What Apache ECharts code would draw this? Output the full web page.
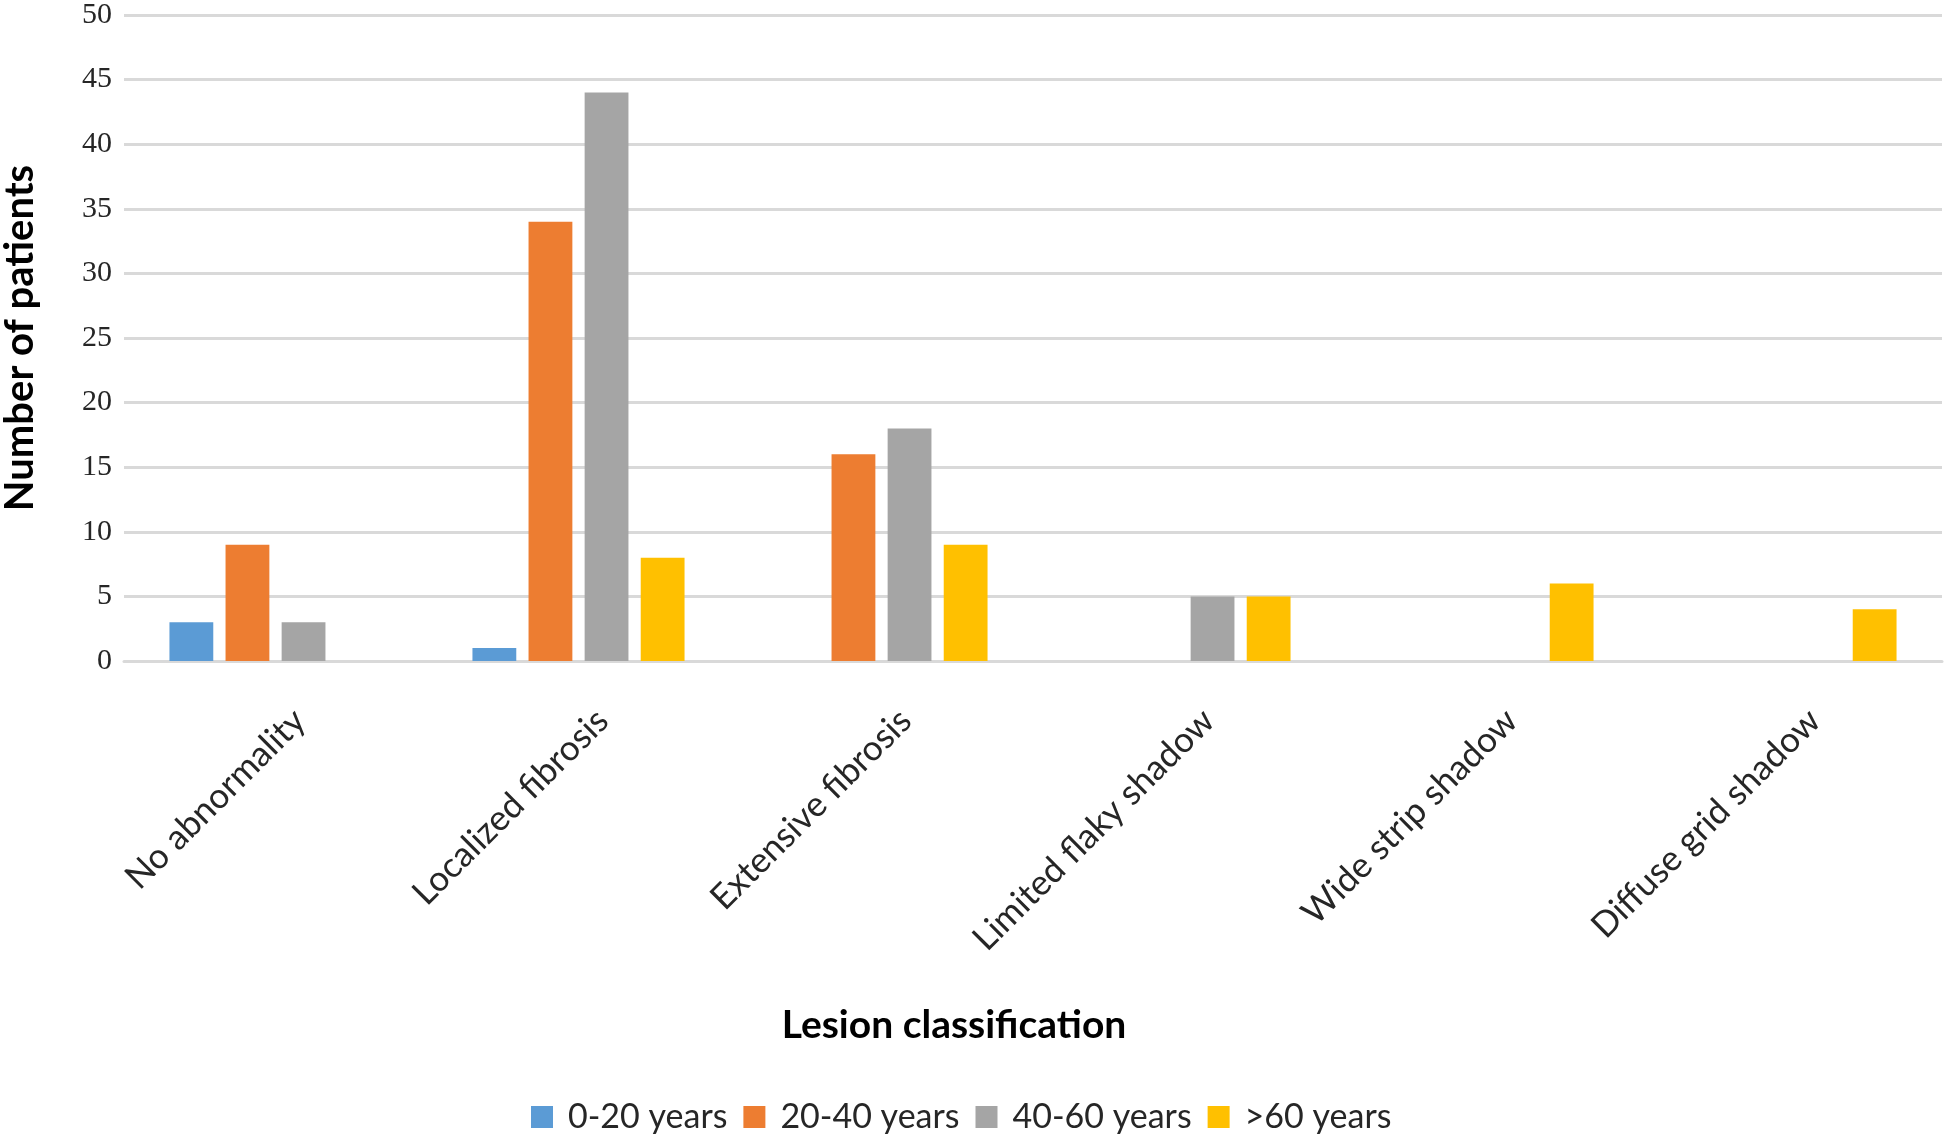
<!DOCTYPE html>
<html>
<head>
<meta charset="utf-8">
<script src="https://cdn.jsdelivr.net/npm/echarts@6/dist/echarts.min.js"></script>
<style>
html,body{margin:0;padding:0;background:#fff;}
#chart{width:1946px;height:1141px;}
</style>
</head>
<body>
<div id="chart"></div>
<script>
const categories = ['No abnormality','Localized fibrosis','Extensive fibrosis','Limited flaky shadow','Wide strip shadow','Diffuse grid shadow'];
const seriesNames = ['0-20 years','20-40 years','40-60 years','>60 years'];
const age0to20 = [3, 1, 0, 0, 0, 0];
const age20to40 = [9, 34, 16, 0, 0, 0];
const age40to60 = [3, 44, 18, 5, 0, 0];
const ageOver60 = [0, 8, 9, 5, 6, 4];
const colors = ['#5B9BD5','#ED7D31','#A5A5A5','#FFC000'];
const yTicks = {min: 0, max: 50, interval: 5};

const chart = echarts.init(document.getElementById('chart'));
const seriesData = [age0to20, age20to40, age40to60, ageOver60];
chart.setOption({
  animation: false,
  color: colors,
  title: {
    text: 'Lesion classification',
    left: 954,
    top: 1006,
    textAlign: 'center',
    padding: 0,
    textStyle: {fontFamily: 'Lato', fontWeight: 'bold', fontSize: 39, color: '#000'}
  },
  grid: {left: 124, right: 4, top: 15, bottom: 480, containLabel: false, outerBoundsMode: 'none'},
  legend: {
    data: seriesNames,
    bottom: 2,
    left: 526,
    itemWidth: 22,
    itemHeight: 22,
    itemGap: 16,
    icon: 'rect',
    textStyle: {fontFamily: 'Lato', fontSize: 34, color: '#262626', padding: [0,0,0,10]}
  },
  xAxis: {
    type: 'category',
    data: categories,
    axisLine: {lineStyle: {color: '#d9d9d9', width: 3}},
    axisTick: {show: false},
    axisLabel: {rotate: 45, margin: 30, verticalAlign: 'top', lineHeight: 68, fontFamily: 'Lato', fontSize: 35, color: '#262626', interval: 0}
  },
  yAxis: {
    type: 'value',
    min: yTicks.min, max: yTicks.max, interval: yTicks.interval,
    name: 'Number of patients',
    nameLocation: 'middle',
    nameRotate: 90,
    nameGap: 84,
    nameTextStyle: {fontFamily: 'Lato', fontWeight: 'bold', fontSize: 40, color: '#000'},
    axisLine: {show: false},
    axisTick: {show: false},
    axisLabel: {margin: 12, fontFamily: 'Liberation Serif', fontSize: 30, color: '#262626'},
    splitLine: {lineStyle: {color: '#d9d9d9', width: 3}}
  },
  series: seriesNames.map((n, i) => ({
    name: n,
    type: 'bar',
    data: seriesData[i],
    barGap: '28%',
    barCategoryGap: '30%',
    itemStyle: {color: colors[i]}
  }))
});
</script>
</body>
</html>
